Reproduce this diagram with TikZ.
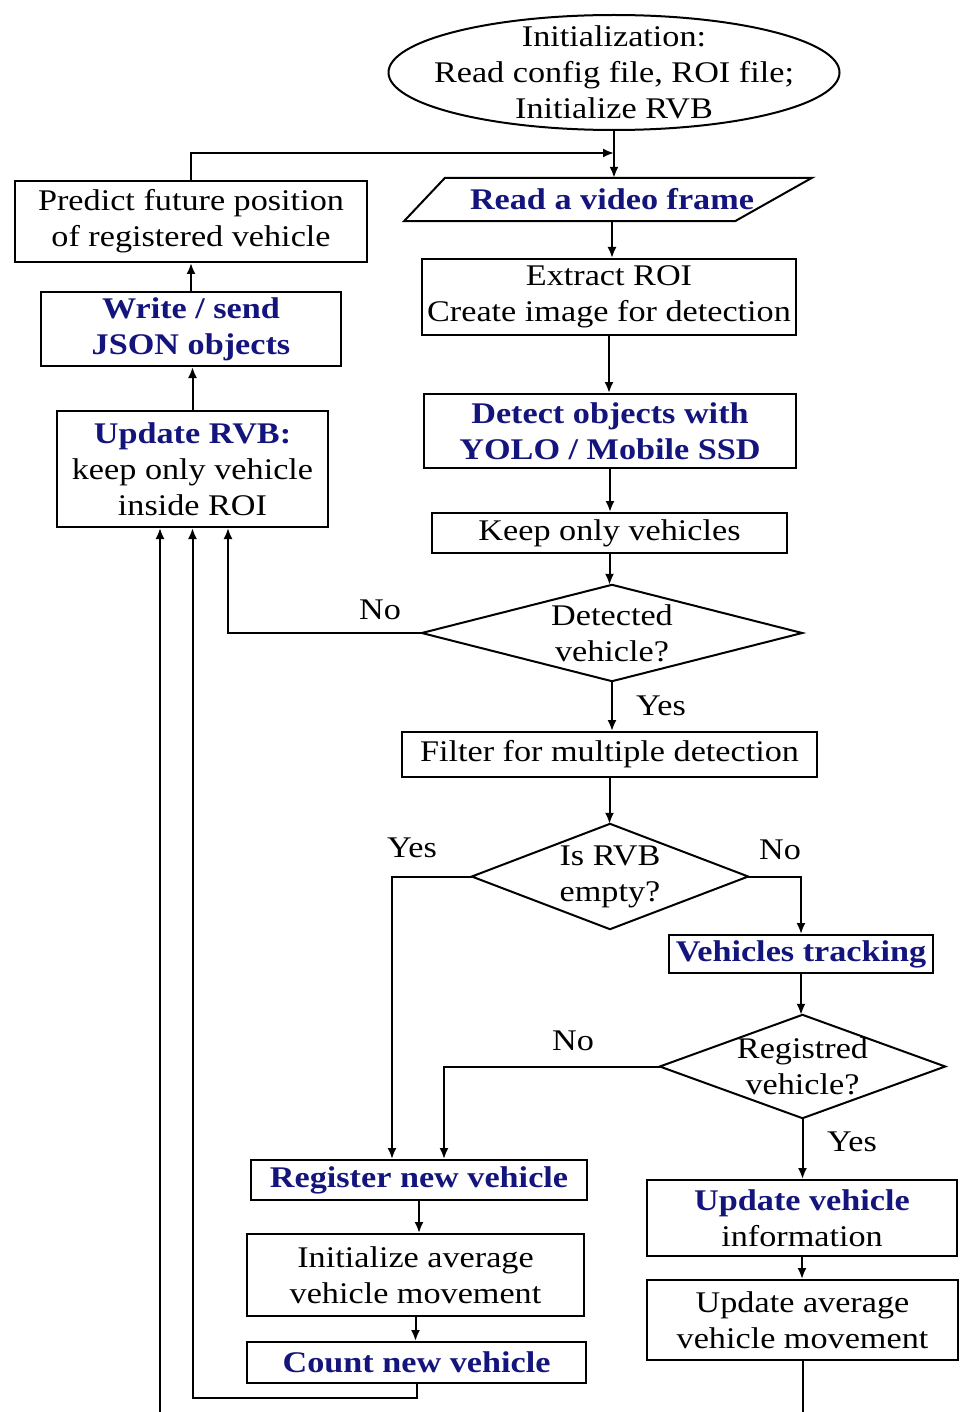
\documentclass[tikz,border=0pt]{standalone}
\usepackage{fontspec}
\setmainfont{Liberation Serif}[FakeStretch=1.14]
\usetikzlibrary{arrows.meta}
\definecolor{navyt}{RGB}{20,20,125}
\newcommand{\hl}[1]{{\color{navyt}\bfseries #1}}
\begin{document}
\begin{tikzpicture}[x=1pt,y=-1pt,
  base/.style={font=\fontsize{30}{36}\selectfont, align=center, inner sep=0pt, rectangle},
  box/.style={base, draw, line width=2pt},
  plain/.style={base},
  lbl/.style={font=\fontsize{30}{36}\selectfont, inner sep=0pt},
  edge/.style={line width=2pt},
  arr/.style={line width=2pt, -{Latex[length=11pt,width=9pt]}}]
\useasboundingbox (0,0) rectangle (959,1412);

% nodes
\node[plain, minimum width=451, minimum height=115] (init) at (614,72.5)
  {Initialization:\\Read config file, ROI file;\\Initialize RVB};
\draw[edge] (init.center) ellipse [x radius=225.5, y radius=57.5];

\node[plain, minimum width=300, minimum height=43] (read) at (612,199.5) {\hl{Read a video frame}};
\draw[edge] ([xshift=-167]read.north) -- ([xshift=200]read.north)
  -- ([xshift=123]read.south) -- ([xshift=-208]read.south) -- cycle;

\node[box, minimum width=374, minimum height=76] (extract) at (609,297)
  {Extract ROI\\Create image for detection};
\node[box, minimum width=372, minimum height=74] (detect) at (610,431)
  {\hl{Detect objects with}\\\hl{YOLO / Mobile SSD}};
\node[box, minimum width=355, minimum height=40] (keep) at (609.5,533) {Keep only vehicles};

\node[plain, minimum width=380, minimum height=96] (det) at (612,633) {Detected\\vehicle?};
\draw[edge] (det.north) -- (det.east) -- (det.south) -- (det.west) -- cycle;

\node[box, minimum width=415, minimum height=45] (filter) at (609.5,754.5) {Filter for multiple detection};

\node[plain, minimum width=276, minimum height=105] (rvb) at (610,876.5) {Is RVB\\empty?};
\draw[edge] (rvb.north) -- (rvb.east) -- (rvb.south) -- (rvb.west) -- cycle;

\node[box, minimum width=264, minimum height=38] (track) at (801,954) {\hl{Vehicles tracking}};

\node[plain, minimum width=285, minimum height=103] (reg) at (802.5,1066.5) {Registred\\vehicle?};
\draw[edge] (reg.north) -- (reg.east) -- (reg.south) -- (reg.west) -- cycle;

\node[box, minimum width=336, minimum height=40] (register) at (419,1180) {\hl{Register new vehicle}};
\node[box, minimum width=337, minimum height=82] (initavg) at (415.5,1275)
  {Initialize average\\vehicle movement};
\node[box, minimum width=339, minimum height=41] (count) at (416.5,1362.5) {\hl{Count new vehicle}};

\node[box, minimum width=310, minimum height=76] (updinfo) at (802,1218)
  {\hl{Update vehicle}\\information};
\node[box, minimum width=311, minimum height=80] (updavg) at (802.5,1320)
  {Update average\\vehicle movement};

\node[box, minimum width=271, minimum height=116] (updrvb) at (192.5,469)
  {\hl{Update RVB:}\\keep only vehicle\\inside ROI};
\node[box, minimum width=300, minimum height=74] (write) at (191,329)
  {\hl{Write / send}\\\hl{JSON objects}};
\node[box, minimum width=352, minimum height=81] (predict) at (191,221.5)
  {Predict future position\\of registered vehicle};

% labels
\node[lbl] (l1) at (380,610) {No};
\node[lbl] (l2) at (661,706) {Yes};
\node[lbl] (l3) at (412,848) {Yes};
\node[lbl] (l4) at (780,850) {No};
\node[lbl] (l5) at (573,1041) {No};
\node[lbl] (l6) at (852,1142) {Yes};

% free-end coordinates
\coordinate (join) at (init.south |- 0,153);
\coordinate (leftbot) at ([xshift=-32.5]updrvb.south |- 0,1412);
\coordinate (rightbot) at (updavg.south |- 0,1412);

% connectors
\draw[arr] (init.south) -- (init.south |- read.north);
\draw[arr] (predict.north) |- (join);
\draw[arr] (read.south) -- (read.south |- extract.north);
\draw[arr] (extract.south) -- (extract.south |- detect.north);
\draw[arr] (detect.south) -- (detect.south |- keep.north);
\draw[arr] (keep.south) -- (keep.south |- det.north);
\draw[arr] (det.west) -| ([xshift=35.5]updrvb.south);
\draw[arr] (det.south) -- (det.south |- filter.north);
\draw[arr] (filter.south) -- (filter.south |- rvb.north);
\draw[arr] (rvb.west) -| ([xshift=-27]register.north);
\draw[arr] (rvb.east) -| (track.north);
\draw[arr] (track.south) -- (track.south |- reg.north);
\draw[arr] (reg.west) -| ([xshift=25]register.north);
\draw[arr] (reg.south) -- (reg.south |- updinfo.north);
\draw[arr] (updinfo.south) -- (updinfo.south |- updavg.north);
\draw[arr] (register.south) -- (register.south |- initavg.north);
\draw[arr] (initavg.south) -- (initavg.south |- count.north);
\draw[arr] (count.south) -- ++(0,14) -| (updrvb.south);
\draw[arr] (leftbot) -- ([xshift=-32.5]updrvb.south);
\draw[edge] (updavg.south) -- (rightbot);
\draw[arr] (updrvb.north) -- (updrvb.north |- write.south);
\draw[arr] (write.north) -- (write.north |- predict.south);
\end{tikzpicture}
\end{document}
